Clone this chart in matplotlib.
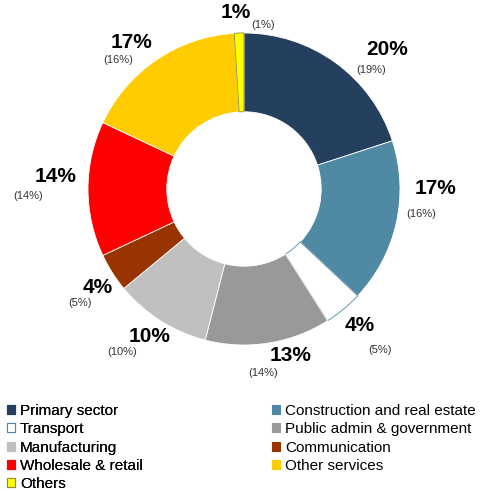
import matplotlib
matplotlib.use("Agg")
import matplotlib.pyplot as plt
import numpy as np
from matplotlib.patches import Patch

SECTORS = [
    "Primary sector",
    "Construction and real estate",
    "Transport",
    "Public admin & government",
    "Manufacturing",
    "Communication",
    "Wholesale & retail",
    "Other services",
    "Others",
]
SHARE = [20, 17, 4, 13, 10, 4, 14, 17, 1]
PREV_SHARE = [19, 16, 5, 14, 10, 5, 14, 16, 1]
COLORS = ["#253F5F", "#5089A3", "#FFFFFF", "#999999", "#C0C0C0",
          "#993300", "#FF0000", "#FFCC00", "#FFFF00"]
EDGES = ["white", "white", "#5089A3", "white", "white",
         "white", "white", "white", "#8C8C3C"]

# label placement: radius (in pie radii) and angle nudge (deg) from wedge middle
LABEL_R = [1.28, 1.23, 1.15, 1.11, 1.12, 1.13, 1.21, 1.18, 1.13]
LABEL_NUDGE = [9.6, -12.6, -0.7, -6.7, 0.2, -1.6, 3.9, -3.3, -0.8]
# offset of the bracketed value from the big one, pixels (right, down)
SUB_OFFSET = [(-16, 21), (-15, 25), (20, 24), (-28, 17), (-28, 16),
              (-18, 15), (-28, 20), (-14, 17), (27, 12)]

plt.rcParams["font.family"] = ["Liberation Sans", "DejaVu Sans"]

W, H = 486, 491
CX, CY, R = 244, 189, 156

fig = plt.figure(figsize=(W / 100, H / 100), dpi=100)
ax = fig.add_axes([0, 0, 1, 1])

wedges, _ = ax.pie(
    SHARE,
    colors=COLORS,
    startangle=90,
    counterclock=False,
    radius=1,
    wedgeprops=dict(width=0.505, linewidth=0.6),
)
for w, ec in zip(wedges, EDGES):
    w.set_edgecolor(ec)

# pixel-true extent: one pie radius = R pixels
ax.set_aspect("auto")
ax.set_xlim(-CX / R, (W - CX) / R)
ax.set_ylim(-(H - CY) / R, CY / R)
ax.axis("off")

total = sum(SHARE)
start = 0.0
for i, v in enumerate(SHARE):
    mid = (start + v / 2) / total * 360
    start += v
    ang = np.deg2rad(mid + LABEL_NUDGE[i])
    x = LABEL_R[i] * np.sin(ang)
    y = LABEL_R[i] * np.cos(ang)
    ax.text(x, y, f"{v}%", ha="center", va="center",
            fontsize=15, fontweight="bold", color="black")
    dx, dy = SUB_OFFSET[i]
    ax.text(x + dx / R, y - dy / R, f"({PREV_SHARE[i]}%)", ha="center",
            va="center", fontsize=8, color="#333333")

handles = [Patch(facecolor=c, edgecolor=(e if e != "white" else c), linewidth=0.8)
           for c, e in zip(COLORS, EDGES)]
handles[2] = Patch(facecolor="white", edgecolor="#5089A3", linewidth=0.8)

legend_kw = dict(
    frameon=False,
    fontsize=11,
    handlelength=0.55,
    handleheight=0.55,
    handletextpad=0.3,
    labelspacing=0.28,
    borderpad=0,
    borderaxespad=0,
    loc="upper left",
)
left_idx = [0, 2, 4, 6, 8]
right_idx = [1, 3, 5, 7]
leg1 = fig.legend([handles[i] for i in left_idx], [SECTORS[i] for i in left_idx],
                  bbox_to_anchor=(7 / W, 1 - 404 / H), **legend_kw)
fig.add_artist(leg1)
fig.legend([handles[i] for i in right_idx], [SECTORS[i] for i in right_idx],
           bbox_to_anchor=(272 / W, 1 - 404 / H), **legend_kw)

fig.savefig("out.png", dpi=100)
